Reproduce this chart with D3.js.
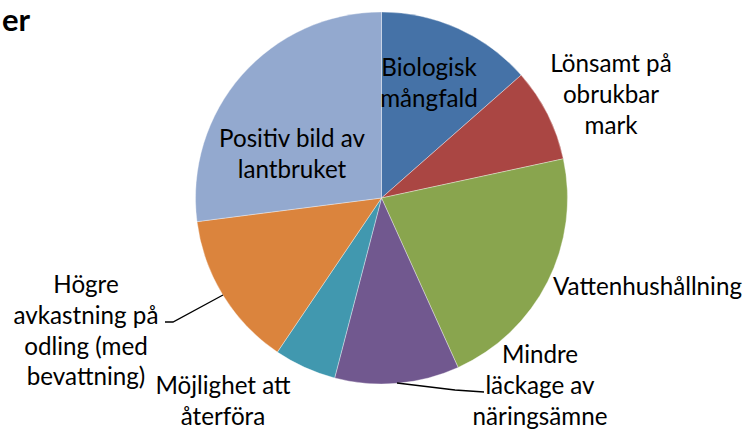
<!DOCTYPE html>
<html>
<head>
<meta charset="utf-8">
<script src="https://cdn.jsdelivr.net/npm/d3@7"></script>
<style>
  html, body { margin: 0; padding: 0; background: #fff; }
  svg { display: block; }
</style>
</head>
<body>
<svg id="chart" width="747" height="430"></svg>
<script>
// ---- data ----
const categories = [
  "Biologisk mångfald",
  "Lönsamt på obrukbar mark",
  "Vattenhushållning",
  "Mindre läckage av näringsämne",
  "Möjlighet att återföra",
  "Högre avkastning på odling (med bevattning)",
  "Positiv bild av lantbruket"
];
const values = [5, 3, 8, 4, 2, 5, 10];
const labelLines = [
  ["Biologisk", "mångfald"],
  ["Lönsamt på", "obrukbar", "mark"],
  ["Vattenhushållning"],
  ["Mindre", "läckage av", "näringsämne"],
  ["Möjlighet att", "återföra"],
  ["Högre", "avkastning på", "odling (med", "bevattning)"],
  ["Positiv bild av", "lantbruket"]
];
const titleText = "er";

// ---- layout / style ----
const colors = ["#4572A7", "#AA4643", "#89A54E", "#71588F", "#4198AF", "#DB843D", "#93A9CF"];
const cx = 381.5, cy = 198, R = 186;
const lineH = 30.8;
// label anchor (center x, first baseline y)
const labelPos = [
  [429, 76], [611, 72], [647.5, 295], [540, 363], [223, 394], [86, 293], [292, 147]
];
const leaders = [
  null, null, null,
  [[397, 383], [455, 390], [484, 392]],
  null,
  [[223, 295], [173, 322], [165, 322]],
  null
];

const svg = d3.select("#chart");
const fontFamily = "Lato, 'Open Sans', sans-serif";

// fit font size so that the widest single-line label matches reference width
const probe = svg.append("text").attr("font-family", fontFamily).attr("font-size", 100).text("Vattenhushållning");
const w100 = probe.node().getComputedTextLength();
probe.remove();
const fs = 100 * 189 / w100;

const pie = d3.pie().sort(null).value(d => d);
const arcs = pie(values);
const arc = d3.arc().innerRadius(0).outerRadius(R);

const g = svg.append("g").attr("transform", `translate(${cx},${cy})`);
g.selectAll("path.slice")
  .data(arcs)
  .enter().append("path")
  .attr("class", "slice")
  .attr("d", arc)
  .attr("fill", (d, i) => colors[i])
  .attr("stroke", "rgba(255,255,255,0.6)")
  .attr("stroke-width", 0.6);

// leader lines
svg.selectAll("polyline.leader")
  .data(leaders.filter(d => d))
  .enter().append("polyline")
  .attr("class", "leader")
  .attr("points", d => d.map(p => p.join(",")).join(" "))
  .attr("fill", "none")
  .attr("stroke", "#000")
  .attr("stroke-width", 1.3);

// labels
labelLines.forEach((lines, i) => {
  const t = svg.append("text")
    .attr("font-family", fontFamily)
    .attr("font-size", fs)
    .attr("fill", "#000")
    .attr("text-anchor", "middle");
  lines.forEach((ln, j) => {
    t.append("tspan")
      .attr("x", labelPos[i][0])
      .attr("y", labelPos[i][1] + j * lineH)
      .text(ln);
  });
});

// title (only its tail is visible in the reference)
svg.append("text")
  .attr("x", 2)
  .attr("y", 31)
  .attr("text-anchor", "start")
  .attr("font-family", fontFamily)
  .attr("font-weight", "bold")
  .attr("font-size", 31)
  .attr("fill", "#000")
  .text(titleText);
</script>
</body>
</html>
